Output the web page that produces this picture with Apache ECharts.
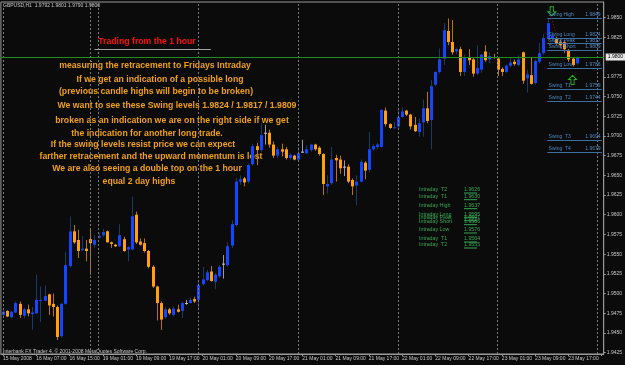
<!DOCTYPE html>
<html>
<head>
<meta charset="utf-8">
<script src="https://cdn.jsdelivr.net/npm/echarts@6/dist/echarts.min.js"></script>
<style>
  html, body { margin: 0; padding: 0; background: #0b0b0b; }
  #chart { width: 625px; height: 365px; }
</style>
</head>
<body>
<div id="chart"></div>
<script>
// GBPUSD H1, one row per bar: [open, high, low, close]
const ohlc = [
  [1.9473, 1.9479, 1.9470, 1.9477], [1.9478, 1.9479, 1.9470, 1.9471], [1.9470, 1.9478, 1.9469, 1.9477],
  [1.9476, 1.9490, 1.9475, 1.9488], [1.9487, 1.9490, 1.9469, 1.9473], [1.9472, 1.9482, 1.9469, 1.9480],
  [1.9480, 1.9486, 1.9471, 1.9475], [1.9474, 1.9483, 1.9454, 1.9476], [1.9475, 1.9524, 1.9474, 1.9492],
  [1.9491, 1.9509, 1.9464, 1.9492], [1.9491, 1.9510, 1.9490, 1.9497], [1.9499, 1.9500, 1.9473, 1.9485],
  [1.9487, 1.9500, 1.9471, 1.9483], [1.9483, 1.9485, 1.9441, 1.9445], [1.9446, 1.9488, 1.9444, 1.9487],
  [1.9487, 1.9553, 1.9486, 1.9536], [1.9535, 1.9598, 1.9533, 1.9579], [1.9579, 1.9587, 1.9563, 1.9565],
  [1.9568, 1.9581, 1.9545, 1.9554], [1.9555, 1.9573, 1.9554, 1.9557], [1.9557, 1.9568, 1.9541, 1.9554],
  [1.9569, 1.9581, 1.9524, 1.9564], [1.9562, 1.9574, 1.9558, 1.9568], [1.9571, 1.9577, 1.9570, 1.9573],
  [1.9574, 1.9582, 1.9572, 1.9578], [1.9579, 1.9580, 1.9565, 1.9565], [1.9565, 1.9566, 1.9558, 1.9563],
  [1.9562, 1.9563, 1.9559, 1.9560], [1.9560, 1.9588, 1.9559, 1.9574], [1.9569, 1.9572, 1.9553, 1.9554],
  [1.9556, 1.9560, 1.9541, 1.9559], [1.9556, 1.9623, 1.9555, 1.9598], [1.9600, 1.9604, 1.9563, 1.9565],
  [1.9566, 1.9570, 1.9561, 1.9562], [1.9564, 1.9570, 1.9552, 1.9554], [1.9554, 1.9555, 1.9532, 1.9534],
  [1.9534, 1.9536, 1.9507, 1.9509], [1.9509, 1.9510, 1.9466, 1.9488], [1.9488, 1.9490, 1.9454, 1.9467],
  [1.9470, 1.9483, 1.9468, 1.9480], [1.9480, 1.9482, 1.9473, 1.9475], [1.9473, 1.9484, 1.9471, 1.9481],
  [1.9480, 1.9486, 1.9476, 1.9477], [1.9478, 1.9490, 1.9469, 1.9488], [1.9488, 1.9492, 1.9486, 1.9488],
  [1.9488, 1.9495, 1.9487, 1.9492], [1.9493, 1.9496, 1.9488, 1.9490], [1.9492, 1.9517, 1.9479, 1.9511],
  [1.9512, 1.9534, 1.9510, 1.9518], [1.9517, 1.9530, 1.9516, 1.9527], [1.9528, 1.9535, 1.9515, 1.9516],
  [1.9515, 1.9526, 1.9506, 1.9524], [1.9522, 1.9536, 1.9520, 1.9534], [1.9538, 1.9549, 1.9519, 1.9538],
  [1.9536, 1.9565, 1.9534, 1.9560], [1.9561, 1.9593, 1.9558, 1.9588], [1.9587, 1.9647, 1.9585, 1.9642],
  [1.9642, 1.9650, 1.9638, 1.9645], [1.9646, 1.9648, 1.9636, 1.9641], [1.9642, 1.9665, 1.9640, 1.9663],
  [1.9664, 1.9690, 1.9662, 1.9687], [1.9687, 1.9691, 1.9663, 1.9682], [1.9682, 1.9716, 1.9680, 1.9701],
  [1.9704, 1.9714, 1.9689, 1.9704], [1.9704, 1.9708, 1.9685, 1.9689], [1.9689, 1.9693, 1.9672, 1.9675],
  [1.9675, 1.9686, 1.9672, 1.9683], [1.9683, 1.9690, 1.9674, 1.9680], [1.9683, 1.9686, 1.9670, 1.9672],
  [1.9672, 1.9678, 1.9670, 1.9676], [1.9675, 1.9676, 1.9669, 1.9670], [1.9670, 1.9686, 1.9669, 1.9678],
  [1.9680, 1.9695, 1.9679, 1.9680], [1.9678, 1.9688, 1.9677, 1.9683], [1.9682, 1.9690, 1.9680, 1.9689],
  [1.9689, 1.9690, 1.9681, 1.9683], [1.9685, 1.9687, 1.9675, 1.9677], [1.9677, 1.9678, 1.9625, 1.9639],
  [1.9636, 1.9650, 1.9627, 1.9639], [1.9640, 1.9686, 1.9638, 1.9670], [1.9672, 1.9676, 1.9642, 1.9669],
  [1.9670, 1.9675, 1.9652, 1.9659], [1.9661, 1.9669, 1.9649, 1.9661], [1.9661, 1.9664, 1.9640, 1.9642],
  [1.9644, 1.9646, 1.9625, 1.9636], [1.9637, 1.9650, 1.9612, 1.9642], [1.9642, 1.9670, 1.9641, 1.9667],
  [1.9666, 1.9668, 1.9645, 1.9656], [1.9657, 1.9705, 1.9654, 1.9683], [1.9683, 1.9690, 1.9681, 1.9687],
  [1.9686, 1.9691, 1.9683, 1.9689], [1.9686, 1.9734, 1.9685, 1.9733], [1.9732, 1.9736, 1.9712, 1.9715],
  [1.9715, 1.9716, 1.9709, 1.9710], [1.9710, 1.9718, 1.9709, 1.9711], [1.9712, 1.9736, 1.9710, 1.9724],
  [1.9724, 1.9736, 1.9723, 1.9731], [1.9732, 1.9733, 1.9725, 1.9727], [1.9727, 1.9728, 1.9708, 1.9712],
  [1.9714, 1.9724, 1.9705, 1.9706], [1.9705, 1.9722, 1.9699, 1.9716], [1.9717, 1.9746, 1.9699, 1.9735],
  [1.9735, 1.9756, 1.9716, 1.9719], [1.9720, 1.9771, 1.9683, 1.9763], [1.9765, 1.9782, 1.9763, 1.9781],
  [1.9781, 1.9811, 1.9779, 1.9797], [1.9798, 1.9843, 1.9790, 1.9834], [1.9833, 1.9849, 1.9815, 1.9819],
  [1.9819, 1.9847, 1.9803, 1.9806], [1.9807, 1.9812, 1.9804, 1.9810], [1.9810, 1.9813, 1.9776, 1.9781],
  [1.9781, 1.9803, 1.9776, 1.9800], [1.9800, 1.9810, 1.9790, 1.9796], [1.9797, 1.9800, 1.9775, 1.9779],
  [1.9779, 1.9815, 1.9777, 1.9786], [1.9784, 1.9804, 1.9780, 1.9803], [1.9807, 1.9815, 1.9794, 1.9796],
  [1.9797, 1.9806, 1.9792, 1.9801], [1.9800, 1.9804, 1.9798, 1.9799], [1.9798, 1.9800, 1.9776, 1.9784],
  [1.9785, 1.9787, 1.9776, 1.9781], [1.9781, 1.9790, 1.9780, 1.9789], [1.9789, 1.9800, 1.9787, 1.9793],
  [1.9794, 1.9797, 1.9789, 1.9791], [1.9790, 1.9802, 1.9788, 1.9797], [1.9806, 1.9807, 1.9766, 1.9770],
  [1.9773, 1.9784, 1.9755, 1.9778], [1.9777, 1.9800, 1.9765, 1.9766], [1.9767, 1.9797, 1.9765, 1.9795],
  [1.9794, 1.9818, 1.9792, 1.9805], [1.9805, 1.9829, 1.9803, 1.9824], [1.9823, 1.9849, 1.9820, 1.9843],
  [1.9824, 1.9832, 1.9820, 1.9827], [1.9824, 1.9826, 1.9815, 1.9817], [1.9819, 1.9822, 1.9812, 1.9815],
  [1.9819, 1.9821, 1.9805, 1.9810], [1.9809, 1.9810, 1.9794, 1.9797], [1.9798, 1.9800, 1.9788, 1.9790],
  [1.9792, 1.9801, 1.9790, 1.9800]
]

// 145 bar slots, the last ones empty (chart shift)
const barSlots = Array.from({ length: 145 }, (_, i) => String(i))
// one time label every 8 bars
const timeLabels = [
  '15 May 2008', '16 May 07:00', '16 May 15:00', '19 May 01:00', '19 May 09:00', '19 May 17:00',
  '20 May 01:00', '20 May 09:00', '20 May 17:00', '21 May 01:00', '21 May 09:00', '21 May 17:00',
  '22 May 01:00', '22 May 09:00', '22 May 17:00', '23 May 01:00', '23 May 09:00', '23 May 17:00'
]
const priceTicks = [
  1.9425, 1.945, 1.9475, 1.95, 1.9525, 1.955, 1.9575, 1.96, 1.9625, 1.965, 1.9675,
  1.97, 1.9725, 1.975, 1.9775, 1.9825, 1.985
]
const gridBars = [0, 21, 23, 47, 71, 95, 119, 143]
const bidPrice = 1.98

const swingNames = ['Swing High', 'Swing Long', 'Swing Peak', 'Swing Short', 'Swing Low',
  'Swing  T1', 'Swing  T2', 'Swing  T3', 'Swing  T4']
const swingLevels = [1.9849, 1.9824, 1.9817, 1.9809, 1.9786, 1.9759, 1.9744, 1.9694, 1.9679]

const intradayNames = ['Intraday  T2', 'Intraday  T1', 'Intraday High', 'Intraday Long', 'Intraday Peak',
  'Intraday Short', 'Intraday Low', 'Intraday  T1', 'Intraday  T2']
const intradayValues = ['1.9626', '1.9630', '1.9637', '1.9595', '1.9591', '1.9586', '1.9576', '1.9564', '1.9555']

const notes = [
  'measuring the retracement to Fridays Intraday',
  'If we get an indication of a possible long',
  '(previous candle highs will begin to be broken)',
  'We want to see these Swing levels 1.9824 / 1.9817 / 1.9809',
  'broken as an indication we are on the right side if we get',
  'the indication for another long trade.',
  'If the swing levels resist price we can expect',
  'farther retracement and the upward momentum is lost',
  'We are also seeing a double top on the 1 hour',
  'equal 2 day highs'
]

const chart = echarts.init(document.getElementById('chart'))

const FONT = '"Liberation Sans", Arial, sans-serif'
const UP = '#1446ff'
const DOWN = '#ffa010'
const UP_WICK = '#1d3a66'
const DOWN_WICK = '#b87410'

function renderCandle(params, api) {
  const i = api.value(0)
  const o = api.value(1), h = api.value(2), l = api.value(3), c = api.value(4)
  const pH = api.coord([i, h]), pL = api.coord([i, l])
  const pO = api.coord([i, o]), pC = api.coord([i, c])
  const x = Math.round(pO[0]) + 0.5
  let body = UP, wick = UP_WICK
  if (c < o) { body = DOWN; wick = DOWN_WICK }
  if (c === o) { body = '#c8c8c8'; wick = '#9a9a9a' }
  const top = Math.min(pO[1], pC[1])
  const hgt = Math.max(1, Math.abs(pO[1] - pC[1]))
  return {
    type: 'group',
    children: [
      { type: 'line', shape: { x1: x, y1: pH[1], x2: x, y2: pL[1] }, style: { stroke: wick, lineWidth: 1 } },
      { type: 'rect', shape: { x: x - 1.5, y: top, width: 3, height: hgt }, style: { fill: body } }
    ]
  }
}

const gridLines = gridBars.map(b => ({
  xAxis: b,
  lineStyle: { color: '#7a7a7a', type: [2, 2], width: 1 },
  label: { show: false }
}))

const swingLines = []
swingNames.forEach((name, k) => {
  const seg = [{ coord: [131, swingLevels[k]] }, { coord: [144, swingLevels[k]] }]
  swingLines.push([
    Object.assign({}, seg[0], { label: { show: true, position: 'insideStartTop', formatter: name, distance: 1 } }),
    seg[1]
  ])
  swingLines.push([
    Object.assign({}, seg[0], { label: { show: true, position: 'insideEndTop', formatter: swingLevels[k].toFixed(4), distance: 1 } }),
    seg[1]
  ])
})

const option = {
  backgroundColor: '#0b0b0b',
  animation: false,
  grid: { left: 0, right: 21, top: 2, bottom: 11, show: true, borderColor: '#9a9a9a', borderWidth: 1 },
  xAxis: {
    type: 'category',
    data: barSlots,
    boundaryGap: true,
    axisLine: { lineStyle: { color: '#9a9a9a' } },
    axisTick: { show: true, interval: 7, length: 2, alignWithLabel: true, lineStyle: { color: '#9a9a9a' } },
    axisLabel: {
      interval: 7,
      align: 'left',
      margin: 2,
      color: '#c8c8c8',
      fontSize: 5,
      fontFamily: FONT,
      formatter: (v, idx) => timeLabels[idx / 8] || ''
    },
    splitLine: { show: false }
  },
  yAxis: {
    type: 'value',
    position: 'right',
    min: 1.94234,
    max: 1.98698,
    scale: true,
    axisLine: { show: true, lineStyle: { color: '#9a9a9a' } },
    axisTick: { show: true, length: 2, customValues: priceTicks, lineStyle: { color: '#9a9a9a' } },
    axisLabel: {
      customValues: priceTicks,
      formatter: v => v.toFixed(4),
      color: '#c8c8c8',
      fontSize: 5,
      fontFamily: FONT,
      margin: 3
    },
    splitLine: { show: false }
  },
  series: [
    {
      type: 'custom',
      renderItem: renderCandle,
      encode: { x: 0, y: [1, 2, 3, 4] },
      data: ohlc.map((r, i) => [i, r[0], r[1], r[2], r[3]]),
      z: 3
    },
    {
      // host for the chart objects (grid lines, levels, bid line)
      type: 'line',
      data: [],
      z: 4,
      markLine: {
        silent: true,
        symbol: ['none', 'none'],
        animation: false,
        data: gridLines
      }
    },
    {
      type: 'line',
      data: [],
      z: 5,
      markLine: {
        silent: true,
        symbol: ['none', 'none'],
        animation: false,
        lineStyle: { color: '#3d6fa0', type: 'solid', width: 1 },
        label: { color: '#4f86bf', fontSize: 5, fontFamily: FONT },
        data: swingLines.concat([
          [
            { coord: [22, 1.9810], lineStyle: { color: '#a0a0a0', type: 'solid' }, label: { show: false } },
            { coord: [50, 1.9810] }
          ],
          [
            { coord: [132, 1.9849], lineStyle: { color: '#a01010', type: [1, 2] }, label: { show: false } },
            { coord: [133, 1.9830] }
          ]
        ])
      },
      markPoint: {
        silent: true,
        animation: false,
        data: [
          {
            coord: [132, 1.9858], symbol: 'path://M3,0 L7,0 L7,6 L10,6 L5,11 L0,6 L3,6 Z',
            symbolSize: [8, 9], itemStyle: { color: 'rgba(0,0,0,0)', borderColor: '#22b022', borderWidth: 1 },
            label: { show: false }
          },
          {
            coord: [137, 1.9771], symbol: 'path://M5,0 L10,5 L7,5 L7,11 L3,11 L3,5 L0,5 Z',
            symbolSize: [8, 9], itemStyle: { color: 'rgba(0,0,0,0)', borderColor: '#22b022', borderWidth: 1 },
            label: { show: false }
          }
        ]
      }
    },
    {
      type: 'line',
      data: [],
      z: 6,
      markLine: {
        silent: true,
        symbol: ['none', 'none'],
        animation: false,
        data: [{
          yAxis: bidPrice,
          lineStyle: { color: '#1f8f1f', type: 'solid', width: 1 },
          label: {
            show: true, position: 'end', formatter: bidPrice.toFixed(4), distance: 2,
            color: '#000', backgroundColor: '#e6e6e6', padding: [1, 2, 1, 2],
            fontSize: 5, fontFamily: FONT
          }
        }]
      }
    }
  ],
  graphic: []
}

const noteCenters = [155, 160, 156, 177, 172, 147, 143, 151, 147, 139]
const noteY = [66, 80, 92, 106, 121, 134, 145, 157, 169, 182]
notes.forEach((t, k) => {
  option.graphic.push({
    type: 'text', x: noteCenters[k], y: noteY[k], silent: true,
    style: { text: t, fill: '#f0a018', font: 'bold 8.7px ' + FONT, align: 'center', verticalAlign: 'middle' }
  })
})
option.graphic.push({
  type: 'text', x: 147, y: 42, silent: true,
  style: { text: 'Trading from the 1 hour', fill: '#ff1010', font: 'bold 8.7px ' + FONT, align: 'center', verticalAlign: 'middle' }
})
option.graphic.push({
  type: 'text', x: 3, y: 6, silent: true,
  style: { text: 'GBPUSD,H1  1.9792 1.9801 1.9790 1.9800', fill: '#c8c8c8', font: '5px ' + FONT, verticalAlign: 'middle' }
})
option.graphic.push({
  type: 'text', x: 3, y: 352, silent: true,
  style: { text: 'Interbank FX Trader 4, \u00a9 2001-2008 MetaQuotes Software Corp.', fill: '#c8c8c8', font: '5px ' + FONT, verticalAlign: 'middle' }
})

const intradayY = [190, 196.7, 205.7, 214.3, 217.7, 221.7, 230, 239, 245]
intradayNames.forEach((t, k) => {
  option.graphic.push({
    type: 'text', x: 419, y: intradayY[k], silent: true,
    style: { text: t, fill: '#36a852', font: '5.3px ' + FONT, verticalAlign: 'middle' }
  })
  option.graphic.push({
    type: 'text', x: 464, y: intradayY[k], silent: true,
    style: { text: intradayValues[k], fill: '#36a852', font: '5.3px ' + FONT, verticalAlign: 'middle' }
  })
  option.graphic.push({
    type: 'line', silent: true,
    shape: { x1: 464, y1: intradayY[k] + 3, x2: 477, y2: intradayY[k] + 3 },
    style: { stroke: '#36a852', lineWidth: 1 }
  })
})

chart.setOption(option)
</script>
</body>
</html>
